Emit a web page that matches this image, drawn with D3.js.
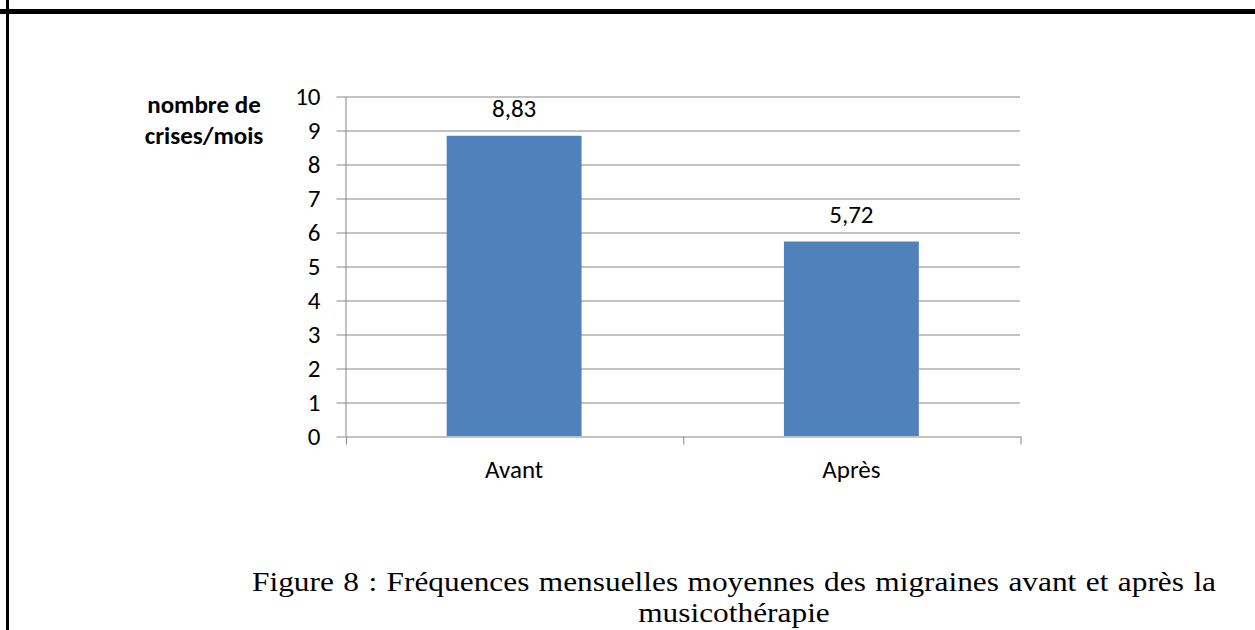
<!DOCTYPE html>
<html>
<head>
<meta charset="utf-8">
<script src="https://cdn.jsdelivr.net/npm/d3@7"></script>
<style>
  body { margin: 0; background: #fff; }
  svg { display: block; }
</style>
</head>
<body>
<svg id="chart"></svg>
<script>
// data
const categories = ["Avant", "Après"];
const values = [8.83, 5.72];
const valueLabels = ["8,83", "5,72"];
const yTicks = [0, 1, 2, 3, 4, 5, 6, 7, 8, 9, 10];
const yTitle = ["nombre de", "crises/mois"];
const caption = ["Figure 8 : Fréquences mensuelles moyennes des migraines avant et après la", "musicothérapie"];

const W = 1255, H = 630;
const plotL = 345.5, plotR = 1020, plotT = 96, plotB = 436;
const sans = "Carlito, Calibri, 'Open Sans', sans-serif";
const serif = "'Liberation Serif', 'Times New Roman', Tinos, Times, serif";
const axisCol = "#868686";
const fs = 25;

const svg = d3.select("#chart").attr("width", W).attr("height", H);

// page frame : thick top rule + left rule
svg.append("rect").attr("x", 0).attr("y", 9).attr("width", W).attr("height", 5).attr("fill", "#000");
svg.append("rect").attr("x", 6).attr("y", 0).attr("width", 3).attr("height", H).attr("fill", "#000");

const yScale = d3.scaleLinear().domain([0, 10]).range([plotB, plotT]);
const xScale = d3.scaleBand().domain(categories).range([plotL, plotR]).padding(0);
const xEdges = d3.scaleLinear().domain([0, categories.length]).range([plotL, plotR]);

// gridlines
svg.append("g")
  .attr("transform", `translate(${plotL},0.5)`)
  .call(d3.axisLeft(yScale).tickValues(yTicks.slice(1)).tickSize(-(plotR - plotL)).tickFormat(""))
  .call(g => g.select(".domain").remove())
  .call(g => g.selectAll("line").attr("stroke", axisCol));

// y axis
svg.append("g")
  .attr("transform", `translate(${plotL},0.5)`)
  .call(d3.axisLeft(yScale).tickValues(yTicks).tickSize(9).tickSizeOuter(0).tickPadding(16))
  .call(g => g.select(".domain").attr("stroke", axisCol))
  .call(g => g.selectAll("line").attr("stroke", axisCol))
  .call(g => g.selectAll("text").attr("font-family", sans).attr("font-size", fs).attr("fill", "#000"));

// bars
const barW = xScale.bandwidth() * 0.4;
svg.selectAll(".bar")
  .data(values)
  .join("rect")
  .attr("class", "bar")
  .attr("x", (d, i) => xScale(categories[i]) + (xScale.bandwidth() - barW) / 2)
  .attr("y", d => yScale(d))
  .attr("width", barW)
  .attr("height", d => plotB - yScale(d))
  .attr("fill", "#4F81BD");

// x axis (ticks at category boundaries)
svg.append("g")
  .attr("transform", `translate(0.5,${plotB + 0.5})`)
  .call(d3.axisBottom(xEdges).ticks(categories.length).tickSize(8).tickSizeOuter(0).tickFormat(""))
  .call(g => g.select(".domain").attr("stroke", axisCol))
  .call(g => g.selectAll("line").attr("stroke", axisCol));

// category labels
svg.append("g")
  .attr("transform", `translate(0,${plotB})`)
  .call(d3.axisBottom(xScale).tickSize(0).tickPadding(24))
  .call(g => g.select(".domain").remove())
  .call(g => g.selectAll("text").attr("font-family", sans).attr("font-size", fs).attr("fill", "#000"));

// value labels
svg.selectAll(".vlab")
  .data(values)
  .join("text")
  .attr("class", "vlab")
  .attr("x", (d, i) => xScale(categories[i]) + xScale.bandwidth() / 2)
  .attr("y", d => yScale(d) - 19)
  .attr("text-anchor", "middle")
  .attr("font-family", sans)
  .attr("font-size", fs)
  .text((d, i) => valueLabels[i]);

// y title
svg.selectAll(".ytitle")
  .data(yTitle)
  .join("text")
  .attr("class", "ytitle")
  .attr("x", 204)
  .attr("y", (d, i) => 113 + i * 31)
  .attr("text-anchor", "middle")
  .attr("font-family", sans)
  .attr("font-weight", "bold")
  .attr("font-size", fs)
  .text(d => d);

// caption : Times-like, slightly wide glyphs, a bit of extra word spacing
const sx = 1.12;
const capG = svg.append("g").attr("transform", `translate(734,0) scale(${sx},1)`);
const capLines = capG.selectAll("text")
  .data(caption)
  .join("text")
  .attr("x", 0)
  .attr("y", (d, i) => 591 + i * 31)
  .attr("text-anchor", "middle")
  .attr("font-family", serif)
  .attr("font-size", 28)
  .attr("fill", "#000")
  .text(d => d);
const first = capLines.node();
const natural = first.getComputedTextLength();
const nSpaces = caption[0].split(" ").length - 1;
const ws = Math.max(0, (964 / sx - natural) / nSpaces);
d3.select(first).attr("word-spacing", ws);
</script>
</body>
</html>
